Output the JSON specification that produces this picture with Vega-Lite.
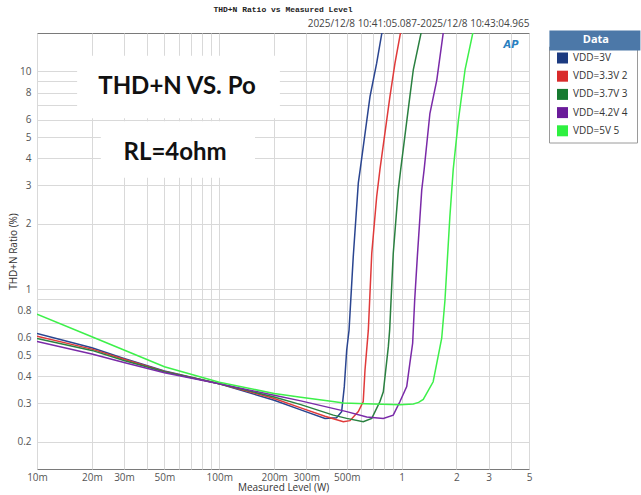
{
  "$schema": "https://vega.github.io/schema/vega-lite/v6.json",
  "width": 492,
  "height": 436,
  "autosize": {"type": "none"},
  "padding": {"left": 37, "top": 33, "right": 112, "bottom": 26},
  "background": "white",
  "config": {
    "view": {"stroke": "#7a7a7a", "strokeWidth": 1},
    "axis": {
      "labelFont": "Open Sans", "labelFontSize": 10, "labelColor": "#555",
      "titleFont": "Open Sans", "titleFontSize": 10, "titleFontWeight": "normal", "titleColor": "#333",
      "gridColor": "#d9d9d9", "gridWidth": 1, "ticks": false, "domain": false, "labelOverlap": false, "labelFlush": false
    }
  },
  "title": {
    "text": "THD+N Ratio vs Measured Level",
    "anchor": "middle", "offset": 4,
    "font": "Liberation Mono", "fontSize": 8, "fontWeight": "bold", "color": "#222"
  },
  "datasets": {
    "curves": [
      {"vdd": "VDD=3V", "p": 0.01, "thd": 0.628},
      {"vdd": "VDD=3V", "p": 0.02, "thd": 0.54},
      {"vdd": "VDD=3V", "p": 0.03, "thd": 0.482},
      {"vdd": "VDD=3V", "p": 0.05, "thd": 0.422},
      {"vdd": "VDD=3V", "p": 0.1, "thd": 0.369},
      {"vdd": "VDD=3V", "p": 0.2, "thd": 0.31},
      {"vdd": "VDD=3V", "p": 0.28, "thd": 0.28},
      {"vdd": "VDD=3V", "p": 0.38, "thd": 0.256},
      {"vdd": "VDD=3V", "p": 0.44, "thd": 0.258},
      {"vdd": "VDD=3V", "p": 0.469, "thd": 0.275},
      {"vdd": "VDD=3V", "p": 0.485, "thd": 0.358},
      {"vdd": "VDD=3V", "p": 0.5, "thd": 0.527},
      {"vdd": "VDD=3V", "p": 0.515, "thd": 0.65},
      {"vdd": "VDD=3V", "p": 0.543, "thd": 1.41},
      {"vdd": "VDD=3V", "p": 0.579, "thd": 3.08},
      {"vdd": "VDD=3V", "p": 0.593, "thd": 3.55},
      {"vdd": "VDD=3V", "p": 0.671, "thd": 7.66},
      {"vdd": "VDD=3V", "p": 0.73, "thd": 10.9},
      {"vdd": "VDD=3V", "p": 0.79, "thd": 16},
      {"vdd": "VDD=3.3V", "p": 0.01, "thd": 0.61},
      {"vdd": "VDD=3.3V", "p": 0.02, "thd": 0.532},
      {"vdd": "VDD=3.3V", "p": 0.03, "thd": 0.478},
      {"vdd": "VDD=3.3V", "p": 0.05, "thd": 0.42},
      {"vdd": "VDD=3.3V", "p": 0.1, "thd": 0.369},
      {"vdd": "VDD=3.3V", "p": 0.2, "thd": 0.316},
      {"vdd": "VDD=3.3V", "p": 0.28, "thd": 0.286},
      {"vdd": "VDD=3.3V", "p": 0.38, "thd": 0.262},
      {"vdd": "VDD=3.3V", "p": 0.479, "thd": 0.247},
      {"vdd": "VDD=3.3V", "p": 0.521, "thd": 0.25},
      {"vdd": "VDD=3.3V", "p": 0.579, "thd": 0.275},
      {"vdd": "VDD=3.3V", "p": 0.616, "thd": 0.306},
      {"vdd": "VDD=3.3V", "p": 0.63, "thd": 0.427},
      {"vdd": "VDD=3.3V", "p": 0.657, "thd": 0.65},
      {"vdd": "VDD=3.3V", "p": 0.686, "thd": 1.46},
      {"vdd": "VDD=3.3V", "p": 0.73, "thd": 2.66},
      {"vdd": "VDD=3.3V", "p": 0.761, "thd": 3.55},
      {"vdd": "VDD=3.3V", "p": 0.863, "thd": 7.66},
      {"vdd": "VDD=3.3V", "p": 0.92, "thd": 10.9},
      {"vdd": "VDD=3.3V", "p": 1.0, "thd": 16},
      {"vdd": "VDD=3.7V", "p": 0.01, "thd": 0.596},
      {"vdd": "VDD=3.7V", "p": 0.02, "thd": 0.525},
      {"vdd": "VDD=3.7V", "p": 0.03, "thd": 0.472},
      {"vdd": "VDD=3.7V", "p": 0.05, "thd": 0.419},
      {"vdd": "VDD=3.7V", "p": 0.1, "thd": 0.369},
      {"vdd": "VDD=3.7V", "p": 0.2, "thd": 0.321},
      {"vdd": "VDD=3.7V", "p": 0.28, "thd": 0.296},
      {"vdd": "VDD=3.7V", "p": 0.422, "thd": 0.265},
      {"vdd": "VDD=3.7V", "p": 0.5, "thd": 0.256},
      {"vdd": "VDD=3.7V", "p": 0.616, "thd": 0.247},
      {"vdd": "VDD=3.7V", "p": 0.686, "thd": 0.256},
      {"vdd": "VDD=3.7V", "p": 0.761, "thd": 0.306},
      {"vdd": "VDD=3.7V", "p": 0.794, "thd": 0.339},
      {"vdd": "VDD=3.7V", "p": 0.846, "thd": 0.546},
      {"vdd": "VDD=3.7V", "p": 0.86, "thd": 0.65},
      {"vdd": "VDD=3.7V", "p": 0.9, "thd": 1.46},
      {"vdd": "VDD=3.7V", "p": 0.959, "thd": 2.86},
      {"vdd": "VDD=3.7V", "p": 0.989, "thd": 3.55},
      {"vdd": "VDD=3.7V", "p": 1.11, "thd": 7.66},
      {"vdd": "VDD=3.7V", "p": 1.16, "thd": 10.2},
      {"vdd": "VDD=3.7V", "p": 1.3, "thd": 16},
      {"vdd": "VDD=4.2V", "p": 0.01, "thd": 0.577},
      {"vdd": "VDD=4.2V", "p": 0.02, "thd": 0.505},
      {"vdd": "VDD=4.2V", "p": 0.03, "thd": 0.462},
      {"vdd": "VDD=4.2V", "p": 0.05, "thd": 0.415},
      {"vdd": "VDD=4.2V", "p": 0.1, "thd": 0.369},
      {"vdd": "VDD=4.2V", "p": 0.2, "thd": 0.327},
      {"vdd": "VDD=4.2V", "p": 0.28, "thd": 0.308},
      {"vdd": "VDD=4.2V", "p": 0.5, "thd": 0.275},
      {"vdd": "VDD=4.2V", "p": 0.644, "thd": 0.26},
      {"vdd": "VDD=4.2V", "p": 0.794, "thd": 0.256},
      {"vdd": "VDD=4.2V", "p": 0.9, "thd": 0.265},
      {"vdd": "VDD=4.2V", "p": 0.98, "thd": 0.306},
      {"vdd": "VDD=4.2V", "p": 1.067, "thd": 0.358},
      {"vdd": "VDD=4.2V", "p": 1.11, "thd": 0.458},
      {"vdd": "VDD=4.2V", "p": 1.15, "thd": 0.566},
      {"vdd": "VDD=4.2V", "p": 1.18, "thd": 0.894},
      {"vdd": "VDD=4.2V", "p": 1.22, "thd": 1.41},
      {"vdd": "VDD=4.2V", "p": 1.29, "thd": 2.86},
      {"vdd": "VDD=4.2V", "p": 1.33, "thd": 3.55},
      {"vdd": "VDD=4.2V", "p": 1.43, "thd": 6.41},
      {"vdd": "VDD=4.2V", "p": 1.56, "thd": 9.12},
      {"vdd": "VDD=4.2V", "p": 1.71, "thd": 16},
      {"vdd": "VDD=5V", "p": 0.01, "thd": 0.77},
      {"vdd": "VDD=5V", "p": 0.02, "thd": 0.606},
      {"vdd": "VDD=5V", "p": 0.03, "thd": 0.527},
      {"vdd": "VDD=5V", "p": 0.05, "thd": 0.442},
      {"vdd": "VDD=5V", "p": 0.1, "thd": 0.375},
      {"vdd": "VDD=5V", "p": 0.2, "thd": 0.333},
      {"vdd": "VDD=5V", "p": 0.28, "thd": 0.32},
      {"vdd": "VDD=5V", "p": 0.42, "thd": 0.306},
      {"vdd": "VDD=5V", "p": 0.48, "thd": 0.301},
      {"vdd": "VDD=5V", "p": 0.7, "thd": 0.298},
      {"vdd": "VDD=5V", "p": 0.98, "thd": 0.296},
      {"vdd": "VDD=5V", "p": 1.16, "thd": 0.298},
      {"vdd": "VDD=5V", "p": 1.24, "thd": 0.303},
      {"vdd": "VDD=5V", "p": 1.315, "thd": 0.313},
      {"vdd": "VDD=5V", "p": 1.49, "thd": 0.377},
      {"vdd": "VDD=5V", "p": 1.66, "thd": 0.597},
      {"vdd": "VDD=5V", "p": 1.73, "thd": 0.894},
      {"vdd": "VDD=5V", "p": 1.84, "thd": 2.15},
      {"vdd": "VDD=5V", "p": 1.92, "thd": 3.55},
      {"vdd": "VDD=5V", "p": 2.05, "thd": 5.98},
      {"vdd": "VDD=5V", "p": 2.23, "thd": 10.2},
      {"vdd": "VDD=5V", "p": 2.5, "thd": 16}
    ]
  },
  "layer": [
    {
      "data": {"name": "curves"},
      "mark": {"type": "line", "strokeWidth": 1.5, "clip": true},
      "encoding": {
        "x": {
          "field": "p", "type": "quantitative",
          "scale": {"type": "log", "domain": [0.01, 5], "nice": false},
          "axis": {
            "title": "Measured Level (W)", "orient": "bottom",
            "values": [0.01, 0.02, 0.03, 0.04, 0.05, 0.06, 0.07, 0.08, 0.09, 0.1, 0.2, 0.3, 0.4, 0.5, 0.6, 0.7, 0.8, 0.9, 1, 2, 3, 4, 5],
            "labelExpr": "indexof([1,2,3,5], round(datum.value/pow(10,floor(log(datum.value)/LN10+1e-9))))>=0 ? (datum.value>=1 ? format(datum.value,'d') : format(round(datum.value*1000),'d')+'m') : ''",
            "labelPadding": 3, "titlePadding": 0
          }
        },
        "y": {
          "field": "thd", "type": "quantitative",
          "scale": {"type": "log", "domain": [0.15, 15], "nice": false},
          "axis": {
            "title": "THD+N Ratio (%)", "orient": "left",
            "values": [0.2, 0.3, 0.4, 0.5, 0.6, 0.7, 0.8, 0.9, 1, 2, 3, 4, 5, 6, 7, 8, 9, 10],
            "labelExpr": "indexof([1,2,3,4,5,6,8], round(datum.value/pow(10,floor(log(datum.value)/LN10+1e-9))))>=0 ? (datum.value<1 ? format(datum.value,'.1f') : format(datum.value,'d')) : ''",
            "labelPadding": 6, "titlePadding": -2
          }
        },
        "stroke": {
          "field": "vdd", "type": "nominal",
          "sort": ["VDD=3V", "VDD=3.3V", "VDD=3.7V", "VDD=4.2V", "VDD=5V"],
          "scale": {"range": ["#2a4590", "#e03a3a", "#2a8040", "#7a2aa8", "#3df04a"]},
          "legend": null
        }
      }
    },
    {
      "data": {"values": [{}]},
      "mark": {"type": "rect", "fill": "white"},
      "encoding": {
        "x": {"datum": 0.0166, "type": "quantitative", "scale": {"type": "log", "domain": [0.01, 5], "nice": false}, "axis": null},
        "x2": {"datum": 0.215},
        "y": {"datum": 11.8, "type": "quantitative", "scale": {"type": "log", "domain": [0.15, 15], "nice": false}, "axis": null},
        "y2": {"datum": 6.1}
      }
    },
    {
      "data": {"values": [{}]},
      "mark": {"type": "rect", "fill": "white"},
      "encoding": {
        "x": {"datum": 0.0224, "type": "quantitative", "scale": {"type": "log", "domain": [0.01, 5], "nice": false}, "axis": null},
        "x2": {"datum": 0.157},
        "y": {"datum": 5.9, "type": "quantitative", "scale": {"type": "log", "domain": [0.15, 15], "nice": false}, "axis": null},
        "y2": {"datum": 3.25}
      }
    },
    {
      "data": {"name": "curves"},
      "mark": {"type": "point", "filled": true, "opacity": 0, "shape": "square"},
      "encoding": {
        "x": {"field": "p", "type": "quantitative", "scale": {"type": "log", "domain": [0.01, 5], "nice": false}, "axis": null},
        "y": {"field": "thd", "type": "quantitative", "scale": {"type": "log", "domain": [0.15, 15], "nice": false}, "axis": null},
        "fill": {
          "field": "vdd", "type": "nominal",
          "scale": {
            "domain": ["VDD=3V", "VDD=3.3V", "VDD=3.7V", "VDD=4.2V", "VDD=5V"],
            "range": ["#1c3a80", "#d92b2b", "#177a30", "#6a1b9a", "#2ef040"]
          },
          "legend": {
            "orient": "none", "legendX": 512, "legendY": 13.5,
            "title": null,
            "strokeColor": "#9a9a9a", "padding": 6,
            "symbolType": "square", "symbolSize": 121, "symbolStrokeWidth": 0, "symbolOpacity": 1,
            "labelFont": "Open Sans", "labelFontSize": 10, "labelColor": "#333",
            "rowPadding": 7.2, "symbolOffset": 2, "labelOffset": 5,
            "labelExpr": "datum.label + (datum.label=='VDD=3V' ? '' : datum.label=='VDD=3.3V' ? '  2' : datum.label=='VDD=3.7V' ? '  3' : datum.label=='VDD=4.2V' ? '  4' : '  5')"
          }
        }
      }
    },
    {
      "data": {"values": [{"hdr": "Data"}]},
      "mark": {"type": "point", "filled": true, "opacity": 0},
      "encoding": {
        "x": {"datum": 0.1, "type": "quantitative", "scale": {"type": "log", "domain": [0.01, 5], "nice": false}, "axis": null},
        "y": {"datum": 1, "type": "quantitative", "scale": {"type": "log", "domain": [0.15, 15], "nice": false}, "axis": null},
        "shape": {
          "field": "hdr", "type": "nominal",
          "scale": {"range": ["M-5,-1.1H5V1.1H-5Z"]},
          "legend": {
            "orient": "none", "legendX": 548.4, "legendY": -2.1, "title": null, "padding": 0,
            "symbolSize": 331, "symbolFillColor": "#3d7fc1", "symbolStrokeColor": "#3d7fc1", "symbolStrokeWidth": 0, "symbolOpacity": 1, "symbolOffset": 0,
            "labelColor": "white", "labelFont": "Open Sans", "labelFontWeight": "bold", "labelFontSize": 11, "labelOffset": -21.6
          }
        }
      }
    },
    {
      "data": {"values": [{}]},
      "mark": {"type": "text", "text": "THD+N VS. Po", "font": "Lato", "fontWeight": "bold", "fontSize": 24, "color": "#111", "baseline": "middle", "align": "center"},
      "encoding": {
        "x": {
          "datum": 0.0586, "type": "quantitative", "scale": {"type": "log", "domain": [0.01, 5], "nice": false},
          "axis": {"orient": "top", "labels": false, "ticks": false, "domain": false, "grid": false,
            "title": "2025/12/8 10:41:05.087-2025/12/8 10:43:04.965", "titleAnchor": "end", "titleFontSize": 10, "titleColor": "#444", "titlePadding": 5}
        },
        "y": {"datum": 8.46, "type": "quantitative", "scale": {"type": "log", "domain": [0.15, 15], "nice": false}, "axis": null}
      }
    },
    {
      "data": {"values": [{}]},
      "mark": {"type": "text", "text": "RL=4ohm", "font": "Lato", "fontWeight": "bold", "fontSize": 24, "color": "#111", "baseline": "middle", "align": "center"},
      "encoding": {
        "x": {"datum": 0.0572, "type": "quantitative", "scale": {"type": "log", "domain": [0.01, 5], "nice": false}, "axis": null},
        "y": {"datum": 4.23, "type": "quantitative", "scale": {"type": "log", "domain": [0.15, 15], "nice": false}, "axis": null}
      }
    },
    {
      "data": {"values": [{}]},
      "mark": {"type": "text", "text": "AP", "font": "DejaVu Sans", "fontWeight": "bold", "fontStyle": "italic", "fontSize": 10, "color": "#2a7fc0", "baseline": "middle", "align": "center"},
      "encoding": {
        "x": {"datum": 3.98, "type": "quantitative", "scale": {"type": "log", "domain": [0.01, 5], "nice": false}, "axis": null},
        "y": {"datum": 13.2, "type": "quantitative", "scale": {"type": "log", "domain": [0.15, 15], "nice": false}, "axis": null}
      }
    }
  ],
  "resolve": {"axis": {"x": "independent", "y": "independent"}}
}
